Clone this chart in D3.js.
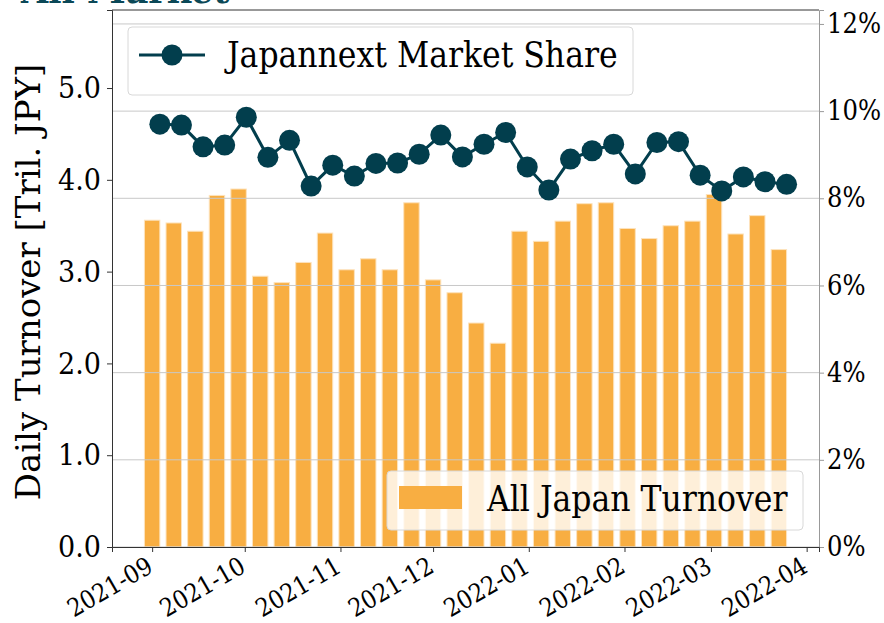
<!DOCTYPE html>
<html>
<head>
<meta charset="utf-8">
<script src="https://cdn.jsdelivr.net/npm/d3@7"></script>
<style>
  body { margin: 0; background: #fff; }
  svg { display: block; font-family: "DejaVu Serif", serif; }
  .cond { font-stretch: condensed; }
</style>
</head>
<body>
<svg id="chart" width="884" height="623"></svg>
<script>
// weekly dates (bar centres)
var weeks = ["2021-09-01","2021-09-08","2021-09-15","2021-09-22","2021-09-29",
             "2021-10-06","2021-10-13","2021-10-20","2021-10-27","2021-11-03",
             "2021-11-10","2021-11-17","2021-11-24","2021-12-01","2021-12-08",
             "2021-12-15","2021-12-22","2021-12-29","2022-01-05","2022-01-12",
             "2022-01-19","2022-01-26","2022-02-02","2022-02-09","2022-02-16",
             "2022-02-23","2022-03-02","2022-03-09","2022-03-16","2022-03-23"];

// All Japan turnover, trillion JPY per day
var turnover = [3.56, 3.53, 3.44, 3.83, 3.90, 2.95, 2.88, 3.10, 3.42, 3.02,
                3.14, 3.02, 3.75, 2.91, 2.77, 2.44, 2.22, 3.44, 3.33, 3.55,
                3.74, 3.75, 3.47, 3.36, 3.50, 3.55, 3.84, 3.41, 3.61, 3.24];

// Japannext market share, percent
var share = [9.70, 9.68, 9.18, 9.22, 9.86, 8.94, 9.33, 8.28, 8.76, 8.51,
             8.80, 8.81, 9.01, 9.45, 8.95, 9.24, 9.51, 8.72, 8.19, 8.90,
             9.09, 9.24, 8.56, 9.28, 9.30, 8.53, 8.17, 8.49, 8.38, 8.32];

var leftTicks = [0, 1, 2, 3, 4, 5];
var rightTicks = [0, 2, 4, 6, 8, 10, 12];
var monthTicks = ["2021-09-01","2021-10-01","2021-11-01","2021-12-01",
                  "2022-01-01","2022-02-01","2022-03-01","2022-04-01"];

var parse = d3.utcParse("%Y-%m-%d");
var DAY = 864e5;

var plot = { left: 112, right: 819, top: 10, bottom: 547 };

var x = d3.scaleUtc()
    .domain([parse("2021-08-19"), parse("2022-04-05")])
    .range([plot.left, plot.right]);
var yL = d3.scaleLinear().domain([0, 5.85]).range([plot.bottom, plot.top]);
var yR = d3.scaleLinear().domain([0, 12.32]).range([plot.bottom, plot.top]);

var svg = d3.select("#chart");

var rows = weeks.map(function(w, i) {
    return { date: parse(w), turnover: turnover[i], share: share[i] };
});

// title, mostly cut off at the top
svg.append("text")
    .attr("x", 21).attr("y", 3)
    .attr("fill", "#0b4857")
    .attr("font-weight", "bold")
    .attr("font-size", 35)
    .text("All Market");

// bars
var barColor = "#f8ae42";
var barLeft = function(d) { return x(new Date(+d.date - 2.5 * DAY)); };
svg.append("g").selectAll("rect")
    .data(rows)
    .enter().append("rect")
    .attr("x", barLeft)
    .attr("width", function(d) { return x(new Date(+d.date + 2.5 * DAY)) - barLeft(d); })
    .attr("y", function(d) { return yL(d.turnover); })
    .attr("height", function(d) { return yL(0) - yL(d.turnover); })
    .attr("fill", barColor)
    .attr("stroke", "#fde3bd")
    .attr("stroke-width", 1);

// bar legend (bottom right)
var lg2 = svg.append("g");
lg2.append("rect")
    .attr("x", 387).attr("y", 471).attr("width", 416).attr("height", 59)
    .attr("rx", 4)
    .attr("fill", "#fff").attr("fill-opacity", 0.8)
    .attr("stroke", "#d8d8d8");
lg2.append("rect")
    .attr("x", 399).attr("y", 486).attr("width", 63).attr("height", 23)
    .attr("fill", barColor);
lg2.append("text")
    .attr("class", "cond")
    .attr("x", 487).attr("y", 511)
    .attr("font-size", 35)
    .attr("fill", "#000")
    .text("All Japan Turnover");

// right-axis grid
svg.append("g").selectAll("line")
    .data(rightTicks)
    .enter().append("line")
    .attr("x1", plot.left).attr("x2", plot.right)
    .attr("y1", function(d) { return yR(d); })
    .attr("y2", function(d) { return yR(d); })
    .attr("stroke", "#c8c8c8")
    .attr("stroke-width", 1);

// market share line
var lineX = function(d) { return x(new Date(+d.date + 2.5 * DAY)); };
var line = d3.line()
    .x(lineX)
    .y(function(d) { return yR(d.share); });
var lineColor = "#023e4d";
svg.append("path")
    .datum(rows)
    .attr("d", line)
    .attr("fill", "none")
    .attr("stroke", lineColor)
    .attr("stroke-width", 3);
svg.append("g").selectAll("circle")
    .data(rows)
    .enter().append("circle")
    .attr("cx", lineX)
    .attr("cy", function(d) { return yR(d.share); })
    .attr("r", 10.5)
    .attr("fill", lineColor);

// line legend (top left)
var lg1 = svg.append("g");
lg1.append("rect")
    .attr("x", 128).attr("y", 27).attr("width", 505).attr("height", 68)
    .attr("rx", 4)
    .attr("fill", "#fff").attr("fill-opacity", 0.8)
    .attr("stroke", "#d8d8d8");
lg1.append("line")
    .attr("x1", 139).attr("x2", 205).attr("y1", 55).attr("y2", 55)
    .attr("stroke", lineColor).attr("stroke-width", 3);
lg1.append("circle")
    .attr("cx", 172).attr("cy", 55).attr("r", 10.5)
    .attr("fill", lineColor);
lg1.append("text")
    .attr("class", "cond")
    .attr("x", 227).attr("y", 67)
    .attr("font-size", 35)
    .attr("fill", "#000")
    .text("Japannext Market Share");

// axes
var leftAxis = svg.append("g")
    .attr("transform", "translate(" + plot.left + ",0)")
    .call(d3.axisLeft(yL).tickValues(leftTicks).tickSize(5).tickPadding(6)
        .tickFormat(d3.format(".1f")));
leftAxis.select(".domain").attr("stroke", "#333");
leftAxis.selectAll(".tick line").attr("stroke", "#333");
leftAxis.selectAll("text").attr("class", "cond")
    .attr("font-size", 30).attr("font-family", "DejaVu Serif").attr("fill", "#000");

var rightAxis = svg.append("g")
    .attr("transform", "translate(" + plot.right + ",0)")
    .call(d3.axisRight(yR).tickValues(rightTicks).tickSize(5).tickPadding(3)
        .tickFormat(function(d) { return d + "%"; }));
rightAxis.select(".domain").attr("stroke", "#999");
rightAxis.selectAll(".tick line").attr("stroke", "#999");
rightAxis.selectAll("text").attr("class", "cond")
    .attr("font-size", 27).attr("font-family", "DejaVu Serif").attr("fill", "#000");

var bottomAxis = svg.append("g")
    .attr("transform", "translate(0," + plot.bottom + ")")
    .call(d3.axisBottom(x).tickValues(monthTicks.map(parse)).tickSize(5)
        .tickFormat(d3.utcFormat("%Y-%m")));
bottomAxis.select(".domain").attr("stroke", "#333");
bottomAxis.selectAll(".tick line").attr("stroke", "#333");
bottomAxis.selectAll("text")
    .attr("class", "cond")
    .attr("font-size", 25)
    .attr("font-family", "DejaVu Serif")
    .attr("fill", "#000")
    .attr("text-anchor", "end")
    .attr("dy", null)
    .attr("y", null)
    .attr("transform", "translate(2,24) rotate(-30)");

// top spine
svg.append("line")
    .attr("x1", plot.left).attr("x2", plot.right)
    .attr("y1", plot.top).attr("y2", plot.top)
    .attr("stroke", "#333");

// y label
svg.append("text")
    .attr("transform", "translate(40,282) rotate(-90)")
    .attr("text-anchor", "middle")
    .attr("font-size", 34)
    .attr("fill", "#000")
    .text("Daily Turnover [Tril. JPY]");
</script>
</body>
</html>
